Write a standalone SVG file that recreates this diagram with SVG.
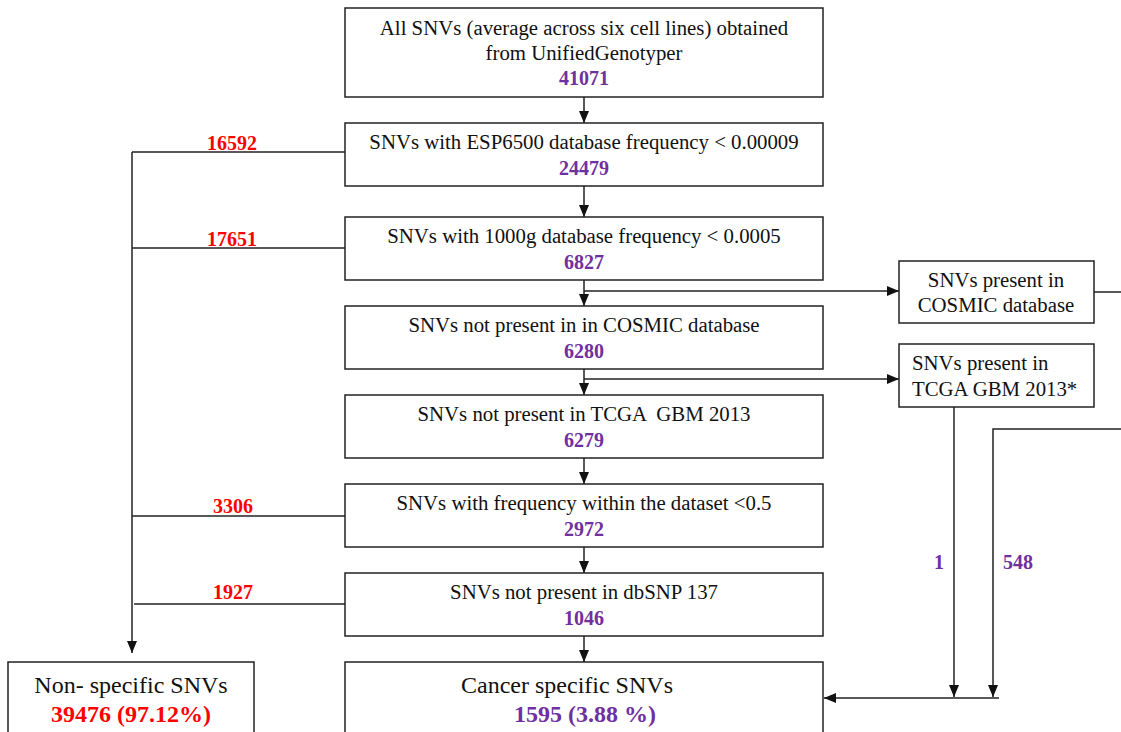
<svg xmlns="http://www.w3.org/2000/svg" width="1121" height="732" viewBox="0 0 1121 732">
<style>
.box{fill:#fff;stroke:#222;stroke-width:1.5}
.t{font-family:"Liberation Serif","Times New Roman",serif;font-size:20.8px;fill:#111;text-anchor:middle}
.tl{font-family:"Liberation Serif","Times New Roman",serif;font-size:20.8px;fill:#111}
.n{font-family:"Liberation Serif","Times New Roman",serif;font-size:20px;font-weight:bold;fill:#7030A0;text-anchor:middle}
.r{font-family:"Liberation Serif","Times New Roman",serif;font-size:20px;font-weight:bold;fill:#FF0000;text-anchor:middle}
.big{font-family:"Liberation Serif","Times New Roman",serif;font-size:24px;fill:#111;text-anchor:middle}
.bigr{font-family:"Liberation Serif","Times New Roman",serif;font-size:24px;font-weight:bold;fill:#FF0000;text-anchor:middle}
.bigp{font-family:"Liberation Serif","Times New Roman",serif;font-size:24px;font-weight:bold;fill:#7030A0;text-anchor:middle}
.ln{fill:none;stroke:#222;stroke-width:1.5}
.arr{fill:none;stroke:#222;stroke-width:1.5;marker-end:url(#ah)}
</style>
<defs>
<marker id="ah" markerUnits="userSpaceOnUse" markerWidth="12" markerHeight="12" viewBox="0 0 12 12" refX="12" refY="6" orient="auto">
<path d="M0,1 L12,6 L0,11 Z" fill="#111"/>
</marker>
</defs>
<g id="connectors">
<line class="arr" x1="584" y1="97" x2="584" y2="123"/>
<line class="arr" x1="584" y1="186" x2="584" y2="217"/>
<line class="arr" x1="584" y1="280" x2="584" y2="306"/>
<line class="arr" x1="584" y1="369" x2="584" y2="395"/>
<line class="arr" x1="584" y1="458" x2="584" y2="484"/>
<line class="arr" x1="584" y1="547" x2="584" y2="573"/>
<line class="arr" x1="584" y1="636" x2="584" y2="662"/>
<line class="arr" x1="584" y1="291" x2="899" y2="291"/>
<line class="arr" x1="584" y1="379" x2="899" y2="379"/>
<polyline class="ln" points="345,152 132,152"/>
<line class="arr" x1="132" y1="152" x2="132" y2="653"/>
<line class="ln" x1="132" y1="248" x2="345" y2="248"/>
<line class="ln" x1="132" y1="516" x2="345" y2="516"/>
<line class="ln" x1="134" y1="604" x2="345" y2="604"/>
<line class="ln" x1="1094" y1="292" x2="1121" y2="292"/>
<line class="arr" x1="954" y1="407" x2="954" y2="697"/>
<polyline class="arr" points="1121,429 993,429 993,697"/>
<line class="arr" x1="999" y1="698" x2="824" y2="698"/>
<text class="r" x="232" y="150">16592</text>
<text class="r" x="232" y="246">17651</text>
<text class="r" x="233" y="513">3306</text>
<text class="r" x="233" y="599">1927</text>
<text class="n" x="939" y="569">1</text>
<text class="n" x="1018" y="569">548</text>
</g>
<g id="n1">
<rect class="box" x="345" y="8" width="478" height="89"/>
<text class="t" x="584" y="35">All SNVs (average across six cell lines) obtained</text>
<text class="t" x="584" y="60">from UnifiedGenotyper</text>
<text class="n" x="584" y="85">41071</text>
</g>
<g id="n2">
<rect class="box" x="345" y="123" width="478" height="63"/>
<text class="t" x="584" y="149">SNVs with ESP6500 database frequency &lt; 0.00009</text>
<text class="n" x="584" y="175">24479</text>
</g>
<g id="n3">
<rect class="box" x="345" y="217" width="478" height="63"/>
<text class="t" x="584" y="243">SNVs with 1000g database frequency &lt; 0.0005</text>
<text class="n" x="584" y="269">6827</text>
</g>
<g id="n4">
<rect class="box" x="345" y="306" width="478" height="63"/>
<text class="t" x="584" y="332">SNVs not present in in COSMIC database</text>
<text class="n" x="584" y="358">6280</text>
</g>
<g id="n5">
<rect class="box" x="345" y="395" width="478" height="63"/>
<text class="t" x="584" y="421" xml:space="preserve">SNVs not present in TCGA  GBM 2013</text>
<text class="n" x="584" y="447">6279</text>
</g>
<g id="n6">
<rect class="box" x="345" y="484" width="478" height="63"/>
<text class="t" x="584" y="510">SNVs with frequency within the dataset &lt;0.5</text>
<text class="n" x="584" y="536">2972</text>
</g>
<g id="n7">
<rect class="box" x="345" y="573" width="478" height="63"/>
<text class="t" x="584" y="599">SNVs not present in dbSNP 137</text>
<text class="n" x="584" y="625">1046</text>
</g>
<g id="cosmic">
<rect class="box" x="899" y="261" width="195" height="62"/>
<text class="t" x="996" y="287">SNVs present in</text>
<text class="t" x="996" y="312">COSMIC database</text>
</g>
<g id="tcga">
<rect class="box" x="899" y="344" width="195" height="63"/>
<text class="tl" x="912" y="370">SNVs present in</text>
<text class="tl" x="912" y="396">TCGA GBM 2013*</text>
</g>
<g id="nonspecific">
<rect class="box" x="8" y="662" width="246" height="90"/>
<text class="big" x="131" y="693">Non- specific SNVs</text>
<text class="bigr" x="131" y="722">39476 (97.12%)</text>
</g>
<g id="cancer">
<rect class="box" x="345" y="662" width="478" height="90"/>
<text class="big" x="567" y="693">Cancer specific SNVs</text>
<text class="bigp" x="585" y="722">1595 (3.88 %)</text>
</g>
</svg>
